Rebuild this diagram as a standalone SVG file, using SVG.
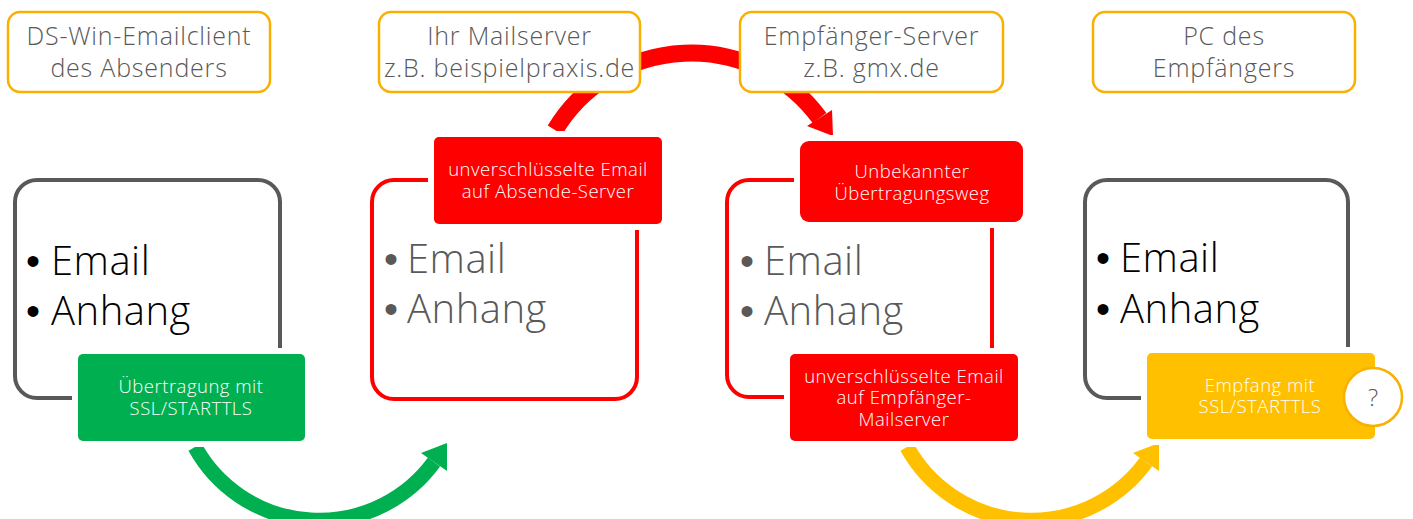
<svg xmlns="http://www.w3.org/2000/svg" width="1413" height="519" viewBox="0 0 1413 519">
<style>
.hdr{fill:#fff;stroke:#F9B000;stroke-width:2.5}
.hdrt{font-family:"Open Sans","Liberation Sans",sans-serif;font-size:25px;font-weight:300;letter-spacing:0.8px;fill:#595959;text-anchor:middle}
.q{font-family:"Open Sans","Liberation Sans",sans-serif;font-size:24px;font-weight:300;fill:#595959;text-anchor:middle}
.boxg{fill:#fff;stroke:#595959;stroke-width:4}
.boxr{fill:#fff;stroke:#FF0000;stroke-width:4}
.lbl{stroke:#fff;stroke-width:12;paint-order:stroke}
.lblt{font-family:"Open Sans","Liberation Sans",sans-serif;font-size:18.5px;font-weight:300;letter-spacing:0.5px;fill:#fff;text-anchor:middle}
.big{font-family:"Open Sans","Liberation Sans",sans-serif;font-size:40px;font-weight:300;letter-spacing:0.5px}
.bul{font-family:"Liberation Sans",Arial,sans-serif;font-size:40px}
.dark{fill:#000}
.grey{fill:#595959}
.arc{fill:none}
</style>
<g id="connectors">
  <path class="arc" d="M 555 130 A 159 159 0 0 1 819.5 118" stroke="#FF0000" stroke-width="17"/>
  <polygon points="832,110 807,126 833,136" fill="#FF0000"/>
  <path class="arc" d="M 195 447 A 142 142 0 0 0 434 462" stroke="#00B050" stroke-width="15"/>
  <polygon points="447,443 421,453 447,471" fill="#00B050"/>
  <path class="arc" d="M 907 447 A 142 142 0 0 0 1146 462" stroke="#FFC000" stroke-width="15"/>
  <polygon points="1159,443 1133,453 1159,471" fill="#FFC000"/>
</g>
<g id="hdr-sender">
  <rect class="hdr" x="8" y="12" width="262" height="80" rx="12"/>
  <text class="hdrt" x="139" y="45">DS-Win-Emailclient</text>
  <text class="hdrt" x="139" y="77">des Absenders</text>
</g>
<g id="hdr-mailserver">
  <rect class="hdr" x="379" y="12" width="261" height="80" rx="12"/>
  <text class="hdrt" x="509.5" y="45">Ihr Mailserver</text>
  <text class="hdrt" x="509.5" y="77">z.B. beispielpraxis.de</text>
</g>
<g id="hdr-recvserver">
  <rect class="hdr" x="740" y="12" width="263" height="80" rx="12"/>
  <text class="hdrt" x="871.5" y="45">Empfänger-Server</text>
  <text class="hdrt" x="871.5" y="77">z.B. gmx.de</text>
</g>
<g id="hdr-recvpc">
  <rect class="hdr" x="1093" y="12" width="262" height="80" rx="12"/>
  <text class="hdrt" x="1224" y="45">PC des</text>
  <text class="hdrt" x="1224" y="77">Empfängers</text>
</g>
<g id="node-sender">
  <rect class="boxg" x="15" y="180" width="265" height="218" rx="22"/>
  <text class="bul dark" x="26" y="275">•</text>
  <text class="big dark" x="51" y="275">Email</text>
  <text class="bul dark" x="26" y="325">•</text>
  <text class="big dark" x="51" y="325">Anhang</text>
  <rect class="lbl" x="78" y="354" width="227" height="87" rx="5" fill="#00B050"/>
  <text class="lblt" x="191" y="393">Übertragung mit</text>
  <text class="lblt" x="191" y="415">SSL/STARTTLS</text>
</g>
<g id="node-mailserver">
  <rect class="boxr" x="372" y="180" width="265" height="219" rx="22"/>
  <text class="bul grey" x="384" y="273">•</text>
  <text class="big grey" x="407" y="273">Email</text>
  <text class="bul grey" x="384" y="323">•</text>
  <text class="big grey" x="407" y="323">Anhang</text>
  <rect class="lbl" x="434" y="137" width="228" height="87" rx="5" fill="#FF0000"/>
  <text class="lblt" x="548" y="176">unverschlüsselte Email</text>
  <text class="lblt" x="548" y="198">auf Absende-Server</text>
</g>
<g id="node-recvserver">
  <rect class="boxr" x="727" y="180" width="265" height="217" rx="22"/>
  <text class="bul grey" x="740" y="275">•</text>
  <text class="big grey" x="764" y="275">Email</text>
  <text class="bul grey" x="740" y="325">•</text>
  <text class="big grey" x="764" y="325">Anhang</text>
  <rect class="lbl" x="800" y="141" width="223" height="81" rx="9" fill="#FF0000"/>
  <text class="lblt" x="912" y="178">Unbekannter</text>
  <text class="lblt" x="912" y="200">Übertragungsweg</text>
  <rect class="lbl" x="790" y="354" width="228" height="87" rx="5" fill="#FF0000"/>
  <text class="lblt" x="904" y="383">unverschlüsselte Email</text>
  <text class="lblt" x="904" y="404">auf Empfänger-</text>
  <text class="lblt" x="904" y="426">Mailserver</text>
</g>
<g id="node-recvpc">
  <rect class="boxg" x="1085" y="180" width="263" height="218" rx="22"/>
  <text class="bul dark" x="1096" y="272">•</text>
  <text class="big dark" x="1120" y="272">Email</text>
  <text class="bul dark" x="1096" y="323">•</text>
  <text class="big dark" x="1120" y="323">Anhang</text>
  <rect class="lbl" x="1147" y="353" width="228" height="86" rx="5" fill="#FFC000"/>
  <text class="lblt" x="1260" y="392">Empfang mit</text>
  <text class="lblt" x="1260" y="413">SSL/STARTTLS</text>
  <circle cx="1373" cy="397" r="29" fill="#fff" stroke="#F9B000" stroke-width="2.5"/>
  <text class="q" x="1373" y="406">?</text>
</g>
</svg>
